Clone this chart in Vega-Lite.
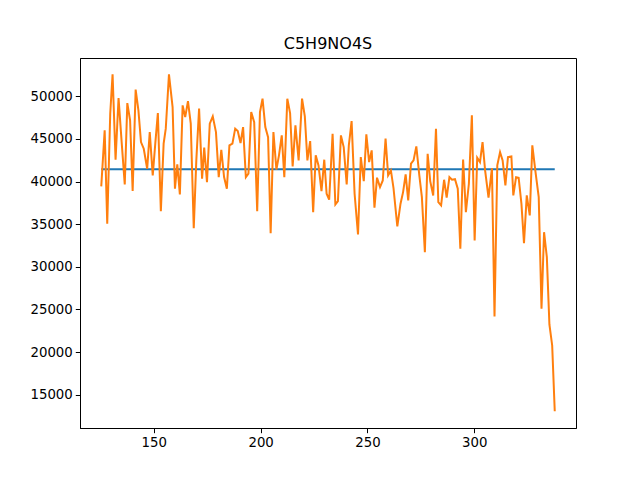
{
  "$schema": "https://vega.github.io/schema/vega-lite/v6.json",
  "width": 496,
  "height": 370,
  "autosize": {"type": "none"},
  "padding": {"left": 80, "top": 58, "right": 64, "bottom": 52},
  "background": "white",
  "title": {
    "text": "C5H9NO4S",
    "anchor": "middle",
    "frame": "group",
    "font": "DejaVu Sans",
    "fontSize": 16,
    "fontWeight": "normal",
    "color": "black",
    "baseline": "alphabetic",
    "offset": -7
  },
  "config": {
    "view": {"stroke": "black", "strokeWidth": 1},
    "axis": {
      "grid": false,
      "domainColor": "black",
      "domainWidth": 1,
      "tickColor": "black",
      "tickWidth": 1,
      "tickSize": 4.7,
      "labelFont": "DejaVu Sans",
      "labelFontSize": 13.3,
      "labelColor": "black",
      "labelPadding": 3,
      "title": null
    }
  },
  "datasets": {
    "series": [
      {"x": 125.4, "y": 39440}, {"x": 127.0, "y": 46010}, {"x": 128.2, "y": 35060},
      {"x": 129.6, "y": 47970}, {"x": 130.7, "y": 52580}, {"x": 132.1, "y": 42570},
      {"x": 133.5, "y": 49800}, {"x": 135.0, "y": 44450}, {"x": 136.4, "y": 39670},
      {"x": 137.6, "y": 49210}, {"x": 138.9, "y": 47180}, {"x": 140.1, "y": 38890},
      {"x": 141.5, "y": 50790}, {"x": 142.8, "y": 48360}, {"x": 144.0, "y": 44640},
      {"x": 145.3, "y": 43860}, {"x": 146.9, "y": 41510}, {"x": 148.1, "y": 45810},
      {"x": 149.5, "y": 40730}, {"x": 150.7, "y": 44480}, {"x": 151.9, "y": 48040},
      {"x": 153.3, "y": 36540}, {"x": 154.6, "y": 44450}, {"x": 155.6, "y": 46210},
      {"x": 157.1, "y": 52580}, {"x": 158.8, "y": 48740}, {"x": 159.9, "y": 39170},
      {"x": 161.0, "y": 42020}, {"x": 162.2, "y": 38500}, {"x": 163.5, "y": 48940},
      {"x": 164.7, "y": 47570}, {"x": 166.0, "y": 49450}, {"x": 167.3, "y": 46800},
      {"x": 168.7, "y": 34540}, {"x": 169.9, "y": 42490}, {"x": 171.2, "y": 48560},
      {"x": 172.6, "y": 40340}, {"x": 173.6, "y": 43980}, {"x": 174.9, "y": 39940},
      {"x": 176.2, "y": 46800}, {"x": 177.6, "y": 47650}, {"x": 179.1, "y": 45810},
      {"x": 180.4, "y": 40530}, {"x": 181.6, "y": 43740}, {"x": 182.9, "y": 40530},
      {"x": 184.2, "y": 39170}, {"x": 185.4, "y": 44250}, {"x": 186.8, "y": 44450},
      {"x": 188.1, "y": 46210}, {"x": 189.3, "y": 45930}, {"x": 190.6, "y": 44520},
      {"x": 191.8, "y": 46400}, {"x": 193.1, "y": 40530}, {"x": 194.3, "y": 40930},
      {"x": 195.6, "y": 48160}, {"x": 197.0, "y": 46980}, {"x": 198.4, "y": 36540},
      {"x": 199.7, "y": 48160}, {"x": 200.9, "y": 49730}, {"x": 202.2, "y": 46400},
      {"x": 203.5, "y": 45220}, {"x": 204.7, "y": 33960}, {"x": 206.0, "y": 45810},
      {"x": 207.4, "y": 41400}, {"x": 208.6, "y": 43080}, {"x": 209.9, "y": 45420},
      {"x": 211.1, "y": 40530}, {"x": 212.5, "y": 49730}, {"x": 213.8, "y": 48040},
      {"x": 215.0, "y": 41780}, {"x": 216.3, "y": 46600}, {"x": 217.8, "y": 42490},
      {"x": 219.4, "y": 49730}, {"x": 220.7, "y": 47650}, {"x": 221.9, "y": 42490},
      {"x": 223.2, "y": 44750}, {"x": 224.6, "y": 36420}, {"x": 225.8, "y": 43080},
      {"x": 227.1, "y": 41900}, {"x": 228.5, "y": 38890}, {"x": 229.8, "y": 42570},
      {"x": 230.9, "y": 38580}, {"x": 232.1, "y": 37880}, {"x": 233.7, "y": 45620},
      {"x": 235.0, "y": 37320}, {"x": 236.2, "y": 37710}, {"x": 237.6, "y": 45420},
      {"x": 238.9, "y": 44050}, {"x": 240.3, "y": 39670}, {"x": 241.3, "y": 44250},
      {"x": 242.6, "y": 47100}, {"x": 244.0, "y": 38580}, {"x": 245.6, "y": 33800},
      {"x": 246.9, "y": 42880}, {"x": 248.3, "y": 40060}, {"x": 249.5, "y": 45540},
      {"x": 250.8, "y": 42290}, {"x": 252.0, "y": 43660}, {"x": 253.3, "y": 36940},
      {"x": 254.5, "y": 40460}, {"x": 255.9, "y": 39350}, {"x": 257.2, "y": 40140},
      {"x": 258.5, "y": 45040}, {"x": 259.7, "y": 40730}, {"x": 261.0, "y": 41310},
      {"x": 262.2, "y": 39280}, {"x": 264.0, "y": 34740}, {"x": 265.5, "y": 37410},
      {"x": 266.7, "y": 38770}, {"x": 267.9, "y": 40850}, {"x": 269.1, "y": 37790},
      {"x": 270.4, "y": 42100}, {"x": 271.6, "y": 42490}, {"x": 272.9, "y": 44130},
      {"x": 274.3, "y": 40730}, {"x": 275.5, "y": 38180}, {"x": 276.9, "y": 31730},
      {"x": 278.2, "y": 43270}, {"x": 279.4, "y": 40060}, {"x": 280.8, "y": 38380},
      {"x": 282.1, "y": 46210}, {"x": 283.2, "y": 37590}, {"x": 284.5, "y": 37210},
      {"x": 285.9, "y": 40220}, {"x": 287.1, "y": 38110}, {"x": 288.4, "y": 40530},
      {"x": 289.6, "y": 40220}, {"x": 291.0, "y": 40290}, {"x": 292.3, "y": 39170},
      {"x": 293.5, "y": 32120}, {"x": 294.8, "y": 42600}, {"x": 296.1, "y": 36420},
      {"x": 297.5, "y": 39750}, {"x": 298.9, "y": 47770}, {"x": 300.2, "y": 33100},
      {"x": 301.4, "y": 42800}, {"x": 302.7, "y": 42290}, {"x": 303.9, "y": 44640},
      {"x": 305.1, "y": 41310}, {"x": 306.7, "y": 38110}, {"x": 308.3, "y": 41580},
      {"x": 309.5, "y": 24180}, {"x": 310.8, "y": 41900}, {"x": 312.1, "y": 43460},
      {"x": 313.3, "y": 42490}, {"x": 314.6, "y": 39550}, {"x": 315.8, "y": 42880},
      {"x": 317.4, "y": 42960}, {"x": 318.3, "y": 38380}, {"x": 319.6, "y": 40530},
      {"x": 320.8, "y": 40460}, {"x": 322.1, "y": 37410}, {"x": 323.3, "y": 32780},
      {"x": 324.6, "y": 38380}, {"x": 326.0, "y": 36030}, {"x": 327.2, "y": 44250},
      {"x": 328.7, "y": 41120}, {"x": 330.2, "y": 38180}, {"x": 331.5, "y": 25080},
      {"x": 332.7, "y": 34070}, {"x": 334.0, "y": 31140}, {"x": 335.2, "y": 23240},
      {"x": 336.5, "y": 20780}, {"x": 337.7, "y": 13060}
    ],
    "mean": [
      {"x": 125.4, "y": 41450},
      {"x": 337.7, "y": 41450}
    ]
  },
  "encoding": {
    "x": {
      "field": "x",
      "type": "quantitative",
      "scale": {"domain": [115.45, 347.65], "nice": false, "zero": false},
      "axis": {"values": [150, 200, 250, 300], "format": "d"}
    },
    "y": {
      "field": "y",
      "type": "quantitative",
      "scale": {"domain": [11100, 54500], "nice": false, "zero": false},
      "axis": {"values": [15000, 20000, 25000, 30000, 35000, 40000, 45000, 50000], "format": "d"}
    }
  },
  "layer": [
    {
      "data": {"name": "mean"},
      "mark": {"type": "line", "color": "#1f77b4", "strokeWidth": 2, "clip": true}
    },
    {
      "data": {"name": "series"},
      "mark": {"type": "line", "color": "#ff7f0e", "strokeWidth": 2, "clip": true}
    }
  ]
}
